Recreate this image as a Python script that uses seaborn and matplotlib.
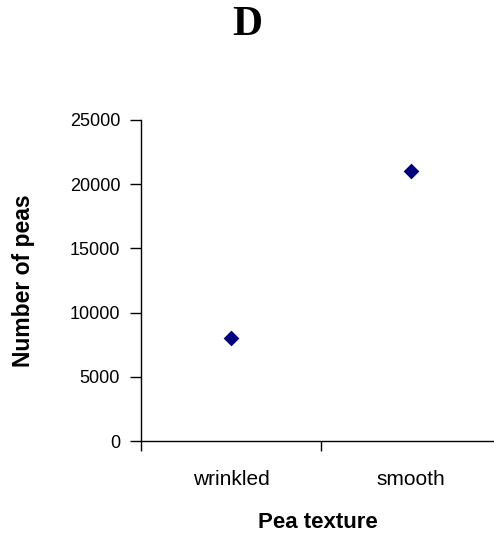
import matplotlib
matplotlib.use("Agg")
import matplotlib.pyplot as plt
import seaborn as sns
import pandas as pd

# 데이터
textures = ["wrinkled", "smooth"]
counts = [8000, 21000]
y_ticks = [0, 5000, 10000, 15000, 20000, 25000]

df = pd.DataFrame({"texture": textures, "count": counts})

sns.set_style("white")
plt.rcParams["font.family"] = ["Liberation Sans", "DejaVu Sans"]
plt.rcParams["text.color"] = "black"
plt.rcParams["axes.labelcolor"] = "black"
plt.rcParams["xtick.color"] = "black"
plt.rcParams["ytick.color"] = "black"

fig = plt.figure(figsize=(4.94, 5.36), dpi=100)
ax = fig.add_axes([141 / 494, 95 / 536, 360 / 494, 321 / 536])

sns.stripplot(data=df, x="texture", y="count", jitter=False, marker="D",
              color="#000080", size=8, ax=ax)

ax.set_xlim(-0.5, 1.5)
ax.set_ylim(0, 25000)
ax.set_yticks(y_ticks)
ax.set_yticklabels([str(v) for v in y_ticks], fontsize=13)

# 카테고리 경계에 눈금, 가운데에 라벨
ax.set_xticks([-0.5, 0.5, 1.5])
ax.set_xticklabels(["", "", ""])
ax.set_xticks([0, 1], minor=True)
ax.set_xticklabels(textures, minor=True, fontsize=15)
ax.tick_params(axis="x", which="major", direction="out", length=7, width=1, color="black", bottom=True)
ax.tick_params(axis="x", which="minor", length=0, pad=21)
ax.tick_params(axis="y", direction="out", length=8, width=1, color="black", left=True, pad=7)

for side in ["top", "right"]:
    ax.spines[side].set_visible(False)
for side in ["left", "bottom"]:
    ax.spines[side].set_color("black")
    ax.spines[side].set_linewidth(1)

ax.set_xlabel("Pea texture", fontsize=16, fontweight="bold")
ax.set_ylabel("Number of peas", fontsize=16.5, fontweight="bold")
ax.xaxis.set_label_coords(177 / 360, -71 / 321)
ax.yaxis.set_label_coords(-106 / 360, 0.5)

fig.text(0.5, 1 - 25 / 536, "D", ha="center", va="center", fontsize=30,
         fontweight="bold", family=["Liberation Serif", "DejaVu Serif"])

fig.savefig("out.png", dpi=100)
